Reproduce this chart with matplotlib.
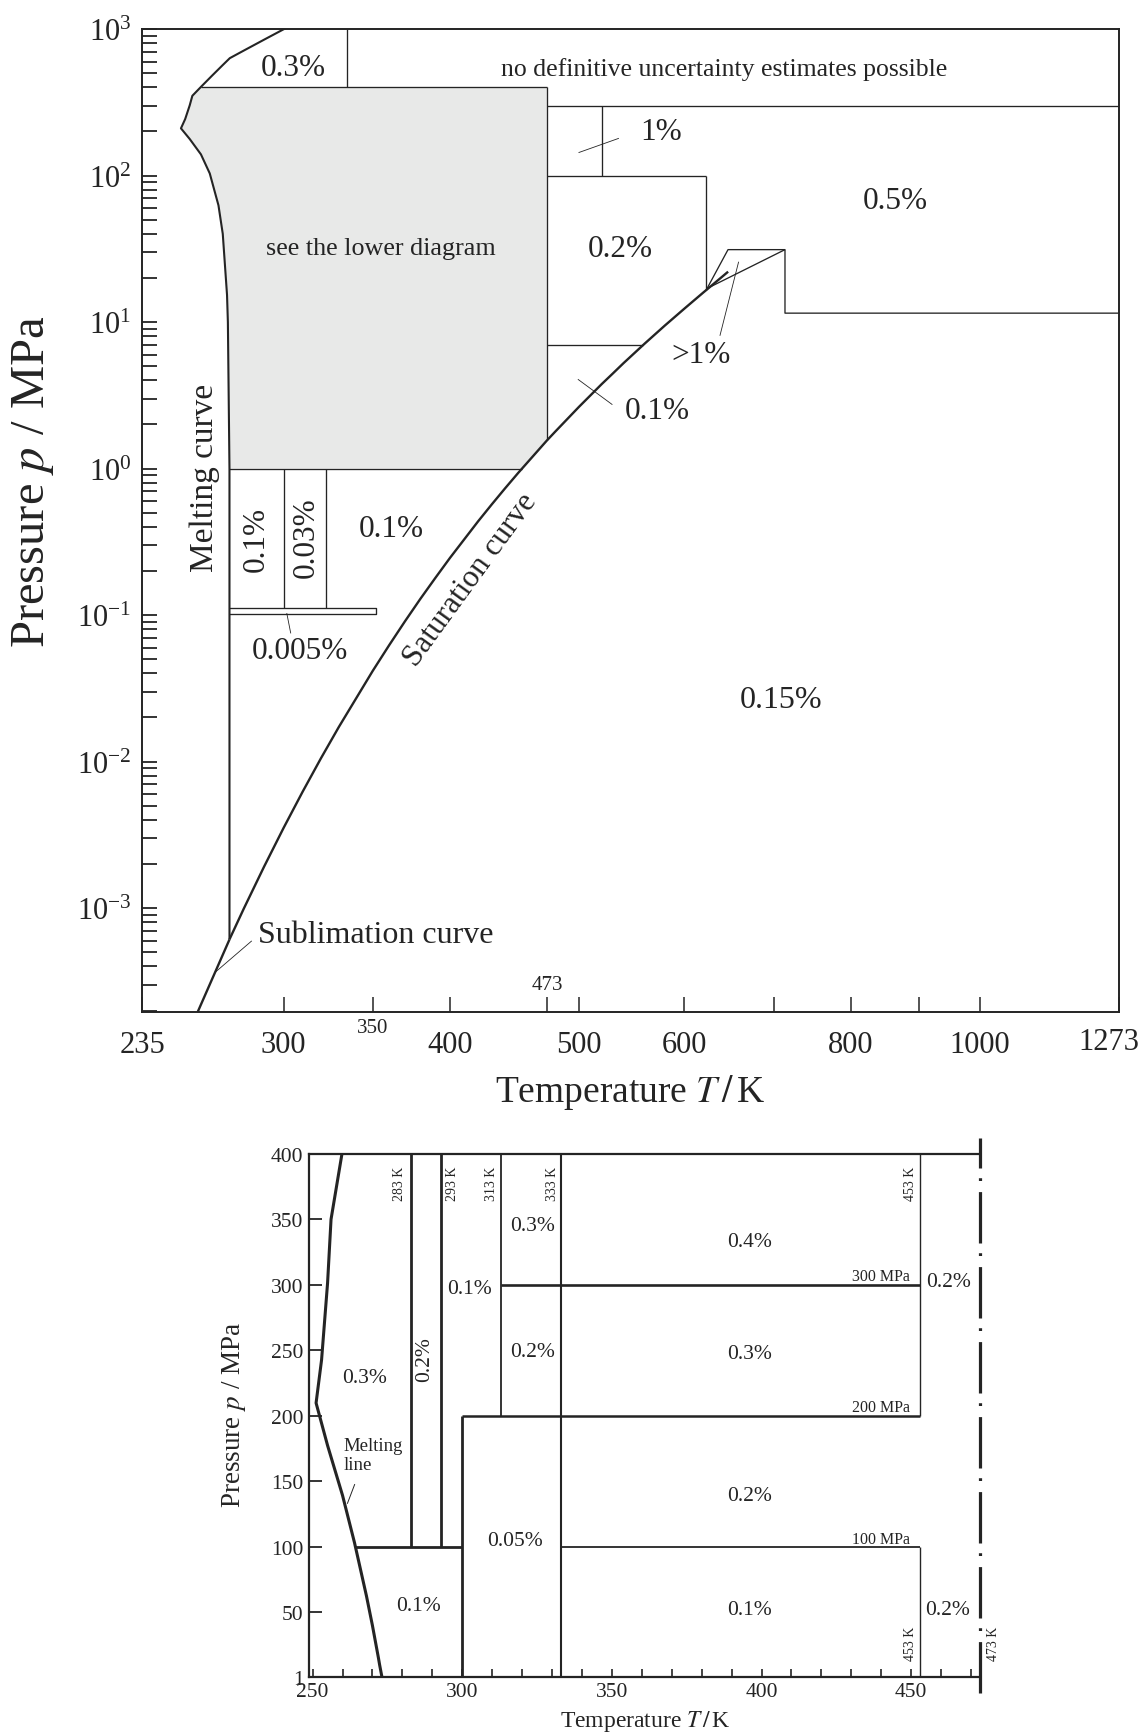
import numpy as np
import matplotlib.pyplot as plt
from matplotlib.ticker import FixedLocator, LogLocator, NullFormatter, NullLocator, FuncFormatter

plt.rcParams['font.family'] = ['Liberation Serif', 'DejaVu Serif']
plt.rcParams['mathtext.fontset'] = 'stix'
plt.rcParams['lines.scale_dashes'] = False
plt.rcParams['lines.solid_capstyle'] = 'butt'

ink = '#242424'
grey = '#e8e9e8'

# melting curve of ice, T / K, p / MPa (ice Ih branch, then III, V, VI)
melt_T = np.array([273.16, 273.15, 272.4, 272.0, 270.0, 268.0, 264.0, 260.0, 255.0, 251.165,
                   253.0, 255.0, 256.164, 260.0, 265.0, 270.0, 273.31, 280.0, 290.0, 300.0, 301.0])
melt_p = np.array([0.000611, 1.0, 10.0, 15.3, 40.0, 62.6, 103.3, 139.4, 177.5, 209.9,
                   242.8, 301.3, 350.1, 402.6, 479.6, 567.6, 632.4, 712.4, 845.5, 996.1, 1010.0])

# vapour pressure curve, triple point to critical point
sat_T = np.array([273.16, 280, 290, 300, 310, 320, 330, 350, 360, 370, 380, 390, 400, 420,
                  430, 440, 450, 473, 480, 500, 520, 530, 540, 560, 580, 600, 620, 623, 635, 640, 647.1])
sat_p = np.array([0.000612, 0.000992, 0.001919, 0.003537, 0.006231, 0.01055, 0.01721, 0.04168,
                  0.06219, 0.0906, 0.1290, 0.1794, 0.2458, 0.4373, 0.5699, 0.7333, 0.9322, 1.555,
                  1.792, 2.639, 3.77, 4.447, 5.24, 7.11, 9.46, 12.35, 15.92, 16.51, 19.1, 20.27, 22.064])

# sublimation curve below the triple point
sub_T = np.array([273.16, 257.3])
sub_p = np.array([0.000611, 0.000177])

# upper diagram: borders of the uncertainty regions
T_top_col = 335
T_lim = 473
T_col_1pct = 520
T_crit_col = 623
p_top = 400
p_high = 300
p_mid = 100
p_low = 7
p_one = 1
T_small_cols = [300, 323]
box_T = [273.16, 352]
box_p = [0.101, 0.111]
crit_T = [647, 714, 714, 1273]
crit_p = [31.2, 31.2, 11.5, 11.5]
crit_diag_T = [714, 626]
crit_diag_p = [31.2, 17.2]

top_labels = [
    ('0.3%', 305, 546, 22.5, 0),
    ('no definitive uncertainty estimates possible', 642.5, 537, 18.5, 0),
    ('1%', 576, 199, 22.5, 0),
    ('0.5%', 864, 68, 22.5, 0),
    ('see the lower diagram', 355, 32.2, 18.8, 0),
    ('0.2%', 537, 31.6, 22.5, 0),
    ('>1%', 617, 5.96, 22.5, 0),
    ('0.1%', 573, 2.5, 22.5, 0),
    ('0.1%', 286.2, 0.334, 22.5, 90),
    ('0.03%', 311.9, 0.3456, 22.5, 90),
    ('0.1%', 361.3, 0.39, 22.5, 0),
    ('0.005%', 308.6, 0.0571, 22.5, 0),
    ('Melting curve', 261.6, 0.882, 24, 90),
    ('Saturation curve', 414.4, 0.1755, 22.5, 54),
    ('0.15%', 709.6, 0.0264, 23, 0),
]
top_leaders = [
    ((499.6, 535.7), (143.3, 179.5)),
    ((638, 659), (8.06, 25.8)),
    ((499, 529.7), (4.07, 2.73)),
    ((301.6, 303.7), (0.1032, 0.075)),
    ((266.4, 283.9), (3.64e-4, 5.98e-4)),
]

x_ticks = [235, 300, 350, 400, 473, 500, 600, 700, 800, 900, 1000, 1273]
x_ticklabels = ['235', '300', '', '400', '', '500', '600', '', '800', '', '1000', '']

# lower diagram: region borders (T / K, p / MPa)
low_vlines = [(283, 100, 400, 2.0), (293, 100, 400, 2.0), (313, 200, 400, 1.3),
              (333, 1, 400, 1.5), (300, 1, 200, 2.0), (453, 200, 400, 1.0), (453, 1, 100, 1.0)]
low_hlines = [(100, 300, 2.0), (200, 300, 1.8), (300, 313, 1.9)]
low_hline_100_right = (333, 453)

low_labels = [
    ('0.3%', 323.5, 345, 15.5, 0),
    ('0.1%', 302.5, 297, 15.5, 0),
    ('0.2%', 323.5, 249.5, 15.5, 0),
    ('0.2%', 287.5, 244, 15.5, 90),
    ('0.3%', 267.5, 229, 15.5, 0),
    ('0.05%', 317.5, 105, 15.5, 0),
    ('0.1%', 285.5, 55, 15.5, 0),
    ('0.4%', 396, 333, 15.5, 0),
    ('0.2%', 462.5, 303, 15.5, 0),
    ('0.3%', 396, 248, 15.5, 0),
    ('0.2%', 396, 139, 15.5, 0),
    ('0.1%', 396, 52, 15.5, 0),
    ('0.2%', 462, 52, 15.5, 0),
]
low_temp_tags = [('283 K', 279.2, 378), ('293 K', 296.8, 378), ('313 K', 309.9, 378),
                 ('333 K', 330.1, 378), ('453 K', 449.7, 378), ('453 K', 449.7, 27),
                 ('473 K', 477.6, 27)]
low_press_tags = [('300 MPa', 307), ('200 MPa', 207), ('100 MPa', 106)]


def sat_p_at(T):
    return 10 ** np.interp(T, sat_T, np.log10(sat_p))


def sat_T_at(p):
    return np.interp(np.log10(p), np.log10(sat_p), sat_T)


def melt_T_at(p):
    i = int(np.argmax(melt_p >= 209.9))
    if p <= 209.9:
        return np.interp(p, melt_p[:i + 1], melt_T[:i + 1])
    return np.interp(p, melt_p[i:], melt_T[i:])


fig = plt.figure(figsize=(11.45, 17.33), dpi=100)

# ---------------- upper diagram ----------------
ax = fig.add_axes([0.12445, 0.41575, 0.8531, 0.56694])
ax.set_xscale('log')
ax.set_yscale('log')

gi = (melt_p >= p_one) & (melt_p <= p_top)
si = (sat_T < T_lim) & (sat_T > sat_T_at(p_one))
gT = list(melt_T[gi]) + [melt_T_at(p_top), T_lim, T_lim] + list(sat_T[si][::-1]) + [sat_T_at(p_one)]
gp = list(melt_p[gi]) + [p_top, p_top, sat_p_at(T_lim)] + list(sat_p[si][::-1]) + [p_one]
ax.fill(gT, gp, color=grey, lw=0, zorder=0)

lw = 0.95
ax.plot([melt_T_at(p_top), T_lim], [p_top, p_top], color=ink, lw=lw)
ax.plot([T_top_col, T_top_col], [p_top, 1e3], color=ink, lw=lw)
ax.plot([T_lim, T_lim], [sat_p_at(T_lim), p_top], color=ink, lw=lw)
ax.plot([T_lim, 1273], [p_high, p_high], color=ink, lw=lw)
ax.plot([T_col_1pct, T_col_1pct], [p_mid, p_high], color=ink, lw=lw)
ax.plot([T_lim, T_crit_col], [p_mid, p_mid], color=ink, lw=lw)
ax.plot([T_crit_col, T_crit_col], [sat_p_at(T_crit_col), p_mid], color=ink, lw=lw)
ax.plot([T_lim, sat_T_at(p_low)], [p_low, p_low], color=ink, lw=lw)
ax.plot([melt_T_at(p_one), sat_T_at(p_one)], [p_one, p_one], color=ink, lw=lw)
for t in T_small_cols:
    ax.plot([t, t], [box_p[1], p_one], color=ink, lw=lw)
ax.plot([box_T[0], box_T[1], box_T[1], box_T[0]], [box_p[1], box_p[1], box_p[0], box_p[0]],
        color=ink, lw=lw)
ax.plot([T_crit_col] + crit_T, [sat_p_at(T_crit_col)] + crit_p, color=ink, lw=lw)
ax.plot(crit_diag_T, crit_diag_p, color=ink, lw=lw)

ax.plot(melt_T, melt_p, color=ink, lw=1.5)
ax.plot(sat_T, sat_p, color=ink, lw=1.7)
ax.plot(sub_T, sub_p, color=ink, lw=1.7)

for (tx, py) in top_leaders:
    ax.plot(tx, py, color=ink, lw=0.6)

for s, t, p, fs, rot in top_labels:
    ax.text(t, p, s, fontsize=fs, rotation=rot, ha='center', va='center',
            rotation_mode='anchor', color=ink)
ax.text(287.1, 6.64e-4, 'Sublimation curve', fontsize=23, ha='left', va='center', color=ink)

ax.set_xlim(235, 1273)
ax.set_ylim(1.97e-4, 1e3)

ax.xaxis.set_major_locator(FixedLocator(x_ticks))
ax.xaxis.set_minor_locator(NullLocator())
ax.set_xticklabels(x_ticklabels)
ax.yaxis.set_major_locator(LogLocator(base=10, numticks=20))
ax.yaxis.set_minor_locator(LogLocator(base=10, subs=np.arange(2, 10), numticks=20))
ax.yaxis.set_minor_formatter(NullFormatter())
ax.tick_params(axis='y', which='both', direction='in', length=10.5, width=1.3,
               labelsize=22, pad=8, colors=ink)
ax.tick_params(axis='x', which='both', direction='in', length=10.5, width=1.1,
               labelsize=22, pad=13, colors=ink)
# small and shifted tick labels
ax.text(350, -0.016, '350', transform=ax.get_xaxis_transform(), fontsize=15,
        ha='center', va='center', color=ink)
ax.text(473, 0.027, '473', transform=ax.get_xaxis_transform(), fontsize=15,
        ha='center', va='center', color=ink)
ax.text(1250, -0.0305, '1273', transform=ax.get_xaxis_transform(), fontsize=22,
        ha='center', va='center', color=ink)
for sp in ax.spines.values():
    sp.set_linewidth(1.4)
    sp.set_color(ink)

ax.set_xlabel('Temperature $T\\,/\\,$K', fontsize=27, color=ink)
ax.xaxis.set_label_coords(0.499, -0.081)
ax.xaxis.label.set_va('center')
ax.set_ylabel('Pressure $p$ / MPa', fontsize=35, color=ink)
ax.yaxis.set_label_coords(-0.112, 0.54)
ax.yaxis.label.set_va('center')

# ---------------- lower diagram ----------------
bx = fig.add_axes([0.26987, 0.03191, 0.58603, 0.30167])
bx.set_xlim(248.8, 473)
bx.set_ylim(1, 400)

bx.plot(melt_T, melt_p, color=ink, lw=2.2)
for t, p0, p1, w in low_vlines:
    bx.plot([t, t], [p0, p1], color=ink, lw=w)
for p, t0, w in low_hlines:
    t_end = 453 if p > 100 else t0
    t_start = melt_T_at(p) if p == 100 else t0
    bx.plot([t_start, t_end], [p, p], color=ink, lw=w)
bx.plot(list(low_hline_100_right), [100, 100], color=ink, lw=1.3)
ln = bx.axvline(473, ymin=-0.032, ymax=1.03, color=ink, lw=2.3, clip_on=False)
ln.set_dashes([37, 8, 2, 7])

for s, t, p, fs, rot in low_labels:
    bx.text(t, p, s, fontsize=fs, rotation=rot, ha='center', va='center',
            rotation_mode='anchor', color=ink)
for s, t, p in low_temp_tags:
    bx.text(t, p, s, fontsize=10, rotation=90, ha='center', va='center',
            rotation_mode='anchor', color=ink, clip_on=False)
for s, p in low_press_tags:
    bx.text(449.5, p, s, fontsize=11.5, ha='right', va='center', color=ink)
bx.text(260.3, 170, 'Melting\nline', fontsize=13.5, ha='left', va='center',
        linespacing=1.15, color=ink)
bx.plot([264.1, 261.6], [148, 133], color=ink, lw=0.7)

bx.xaxis.set_major_locator(FixedLocator(np.arange(250, 471, 10)))
bx.xaxis.set_major_formatter(FuncFormatter(lambda v, pos: '%d' % v if v % 50 == 0 else ''))
bx.yaxis.set_major_locator(FixedLocator([1, 50, 100, 150, 200, 250, 300, 350, 400]))
bx.tick_params(axis='y', direction='in', length=9, width=1.3, labelsize=15.5, pad=4, colors=ink)
bx.tick_params(axis='x', direction='in', length=6, width=1.2, labelsize=15.5, pad=4, colors=ink)
bx.spines['right'].set_visible(False)
for k in ['left', 'top', 'bottom']:
    bx.spines[k].set_linewidth(1.6)
    bx.spines[k].set_color(ink)

bx.set_xlabel('Temperature $T\\,/\\,$K', fontsize=17, color=ink)
bx.xaxis.set_label_coords(0.502, -0.083)
bx.xaxis.label.set_va('center')
bx.set_ylabel('Pressure $p$ / MPa', fontsize=19.5, color=ink)
bx.yaxis.set_label_coords(-0.112, 0.503)
bx.yaxis.label.set_va('center')

fig.savefig('out.png', dpi=100)
